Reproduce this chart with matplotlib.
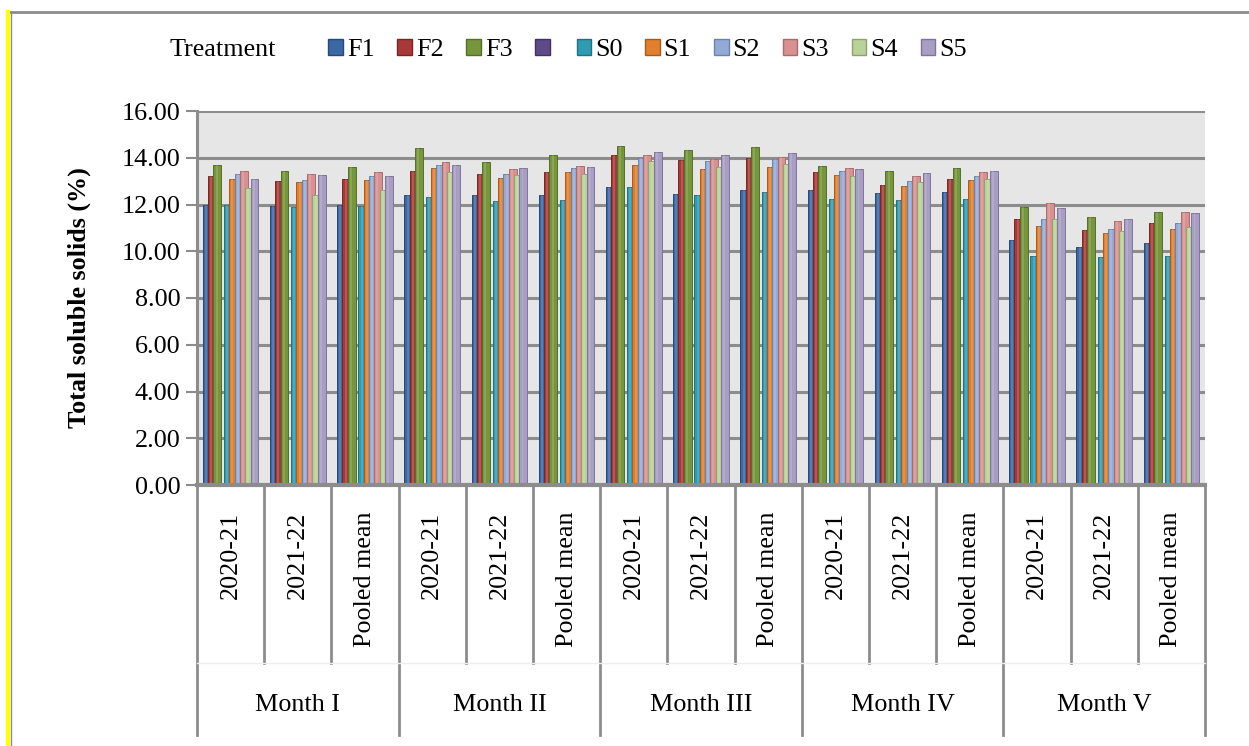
import matplotlib
matplotlib.use("Agg")
import matplotlib.pyplot as plt
from matplotlib.patches import Patch
from matplotlib.lines import Line2D
import numpy as np

# categories
months = ["Month I", "Month II", "Month III", "Month IV", "Month V"]
seasons = ["2020-21", "2021-22", "Pooled mean"]

# series values, one per (month, season)
f1 = [12.0, 11.95, 12.0, 12.4, 12.4, 12.4, 12.75, 12.45, 12.6, 12.6, 12.5, 12.55, 10.5, 10.2, 10.35]
f2 = [13.2, 13.0, 13.1, 13.45, 13.3, 13.4, 14.1, 13.9, 14.0, 13.4, 12.85, 13.1, 11.4, 10.9, 11.2]
f3 = [13.7, 13.45, 13.6, 14.4, 13.8, 14.1, 14.5, 14.35, 14.45, 13.65, 13.45, 13.55, 11.9, 11.45, 11.7]
s0 = [12.0, 11.9, 11.95, 12.3, 12.15, 12.2, 12.75, 12.4, 12.55, 12.25, 12.2, 12.25, 9.8, 9.75, 9.8]
s1 = [13.1, 12.95, 13.05, 13.55, 13.15, 13.4, 13.7, 13.5, 13.6, 13.25, 12.8, 13.05, 11.1, 10.8, 10.95]
s2 = [13.3, 13.05, 13.2, 13.7, 13.3, 13.55, 14.0, 13.85, 13.95, 13.45, 13.0, 13.2, 11.4, 10.95, 11.2]
s3 = [13.45, 13.3, 13.4, 13.8, 13.5, 13.65, 14.1, 13.95, 14.05, 13.55, 13.2, 13.4, 12.05, 11.3, 11.7]
s4 = [12.7, 12.4, 12.6, 13.4, 13.25, 13.3, 13.85, 13.6, 13.75, 13.2, 12.95, 13.1, 11.4, 10.85, 11.05]
s5 = [13.1, 13.25, 13.2, 13.7, 13.55, 13.6, 14.25, 14.1, 14.2, 13.5, 13.35, 13.45, 11.85, 11.4, 11.65]

# the unnamed (purple) series has no data, it only keeps its slot
series_names = ["F1", "F2", "F3", "", "S0", "S1", "S2", "S3", "S4", "S5"]
series_values = [f1, f2, f3, None, s0, s1, s2, s3, s4, s5]
colors = ["#3A68A3", "#A73A38", "#76963B", "#5E4A87", "#2E9BB3",
          "#E0802E", "#91ABD6", "#D69190", "#BAD197", "#A89DC3"]
edges = ["#254A78", "#7A2524", "#53702A", "#41325F", "#1F7183",
         "#A65B1C", "#6A83AD", "#A86C6B", "#8DA36E", "#7F7599"]

plt.rcParams["font.family"] = ["Liberation Serif", "DejaVu Serif"]
FS = 18.8

fig = plt.figure(figsize=(12.49, 7.46), dpi=100)
ax = fig.add_axes([197 / 1249, 1 - 485 / 746, 1008 / 1249, 374 / 746])

n_cat = len(months) * len(seasons)
x = np.arange(n_cat)
slot = 0.079
bar_w = 0.118

ax.set_facecolor("#E6E6E6")
for i, (vals, c, ec) in enumerate(zip(series_values, colors, edges)):
    if vals is None:
        continue
    pos = x + (i - 4.5) * slot
    ax.bar(pos, vals, width=bar_w, color=c, edgecolor=ec, linewidth=0.7, zorder=3 + i)
    # light stripe for the cylinder look
    ax.bar(pos - bar_w * 0.1, vals, width=bar_w * 0.25, color="white", alpha=0.15,
           linewidth=0, zorder=3 + i)

ax.set_xlim(-0.5, n_cat - 0.5)
ax.set_ylim(0, 16)
ax.set_yticks(np.arange(0, 17, 2))
ax.set_yticklabels([f"{v:.2f}" for v in np.arange(0, 17, 2)], fontsize=FS)
ax.tick_params(axis="y", length=8, width=1.5, color="#8C8C8C", pad=4)
ax.set_xticks([])
ax.yaxis.grid(True, color="#8C8C8C", linewidth=2.2, zorder=1)
ax.set_axisbelow(True)
for side in ["top", "right"]:
    ax.spines[side].set_visible(False)
ax.spines["left"].set_color("#8C8C8C")
ax.spines["left"].set_linewidth(2.2)
ax.spines["bottom"].set_color("#8C8C8C")
ax.spines["bottom"].set_linewidth(3)
ax.spines["bottom"].set_zorder(20)

ax.set_ylabel("Total soluble solids (%)", fontsize=FS, fontweight="bold", labelpad=22)

# category axis: season labels, separators, month labels
xt = ax.get_xaxis_transform()
px = 1 / 374
for k in range(n_cat):
    ax.annotate(seasons[k % 3], xy=(x[k], 0), xycoords=xt, xytext=(0, -19),
                textcoords="offset points", rotation=90, ha="center", va="top",
                fontsize=FS)
for k in range(n_cat + 1):
    bottom = -250 * px if k % 3 == 0 else -178 * px
    ax.add_line(Line2D([k - 0.5, k - 0.5], [0, bottom], transform=xt, color="#8C8C8C",
                       linewidth=2, clip_on=False))
ax.add_line(Line2D([-0.5, n_cat - 0.5], [-178 * px, -178 * px], transform=xt,
                   color="#EDEDED", linewidth=1, clip_on=False))
for m, name in enumerate(months):
    ax.text(3 * m + 1, -220 * px, name, transform=xt, ha="center", va="center",
            fontsize=FS)

# legend row
handles = [Patch(facecolor=c, edgecolor=ec, linewidth=1) for c, ec in zip(colors, edges)]
fig.text(170 / 1249, 1 - 50 / 746, "Treatment", fontsize=FS, va="center", ha="left")
fig.legend(handles, series_names, loc="center left", bbox_to_anchor=(318 / 1249, 1 - 50 / 746),
           ncol=len(series_names), frameon=False, fontsize=FS, handlelength=0.55,
           handleheight=0.55, handletextpad=0.15, columnspacing=0.88, borderaxespad=0)

# chart frame: gray top, yellow left
fig.add_artist(Line2D([10 / 1249, 1], [1 - 12 / 746, 1 - 12 / 746], color="#8C8C8C",
                      linewidth=2, transform=fig.transFigure))
fig.add_artist(Line2D([8 / 1249, 8 / 1249], [0, 1 - 12 / 746], color="#FFFF00",
                      linewidth=3, transform=fig.transFigure))
fig.add_artist(Line2D([11 / 1249, 11 / 1249], [0, 1 - 12 / 746], color="#8C8C8C",
                      linewidth=1, transform=fig.transFigure))

fig.savefig("out.png", dpi=100)
